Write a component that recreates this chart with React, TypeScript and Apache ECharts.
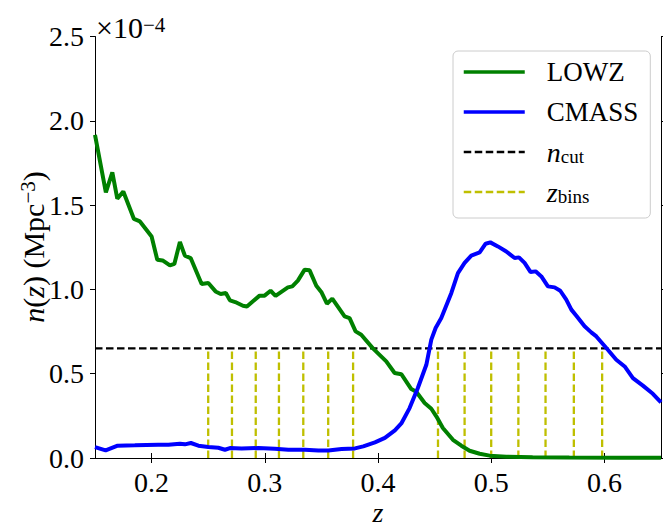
import React, { useEffect, useRef } from 'react';
import * as echarts from 'echarts';

const FONT = '"Liberation Serif", "DejaVu Serif", serif';

// n(z) in units of 1e-4 Mpc^-3
const Z_LOWZ = [0.150, 0.1596, 0.1653, 0.1697, 0.175, 0.1844, 0.1897, 0.200, 0.205, 0.2097, 0.2162, 0.2201, 0.225, 0.2294, 0.2345, 0.2442, 0.2501, 0.2565, 0.261, 0.2656, 0.2692, 0.2739, 0.2807, 0.2842, 0.2954, 0.2998, 0.3051, 0.3095, 0.3204, 0.3243, 0.3292, 0.3352, 0.3396, 0.3455, 0.3499, 0.3549, 0.3596, 0.3705, 0.3749, 0.3802, 0.3852, 0.3955, 0.4073, 0.4147, 0.4206, 0.4294, 0.4338, 0.4412, 0.4471, 0.4515, 0.4573, 0.4662, 0.4736, 0.4809, 0.4898, 0.4986, 0.5133, 0.5366, 0.569, 0.613, 0.650];
const N_LOWZ = [1.917, 1.575, 1.694, 1.538, 1.581, 1.418, 1.403, 1.314, 1.176, 1.172, 1.142, 1.151, 1.281, 1.200, 1.186, 1.032, 1.038, 0.988, 0.973, 0.979, 0.935, 0.925, 0.903, 0.899, 0.963, 0.963, 0.992, 0.961, 1.012, 1.018, 1.052, 1.117, 1.113, 1.022, 0.985, 0.915, 0.945, 0.840, 0.830, 0.751, 0.731, 0.650, 0.573, 0.504, 0.497, 0.409, 0.393, 0.326, 0.292, 0.247, 0.178, 0.108, 0.073, 0.043, 0.025, 0.014, 0.008, 0.005, 0.003, 0.002, 0.001];

const Z_CMASS = [0.150, 0.1594, 0.170, 0.1852, 0.2059, 0.2148, 0.225, 0.2294, 0.2347, 0.2413, 0.2501, 0.2589, 0.2648, 0.2692, 0.2795, 0.2943, 0.3089, 0.3208, 0.3354, 0.3473, 0.3561, 0.3678, 0.3796, 0.387, 0.3973, 0.4061, 0.4149, 0.4206, 0.4279, 0.4352, 0.4427, 0.4471, 0.4509, 0.4559, 0.4648, 0.4706, 0.4765, 0.4824, 0.4898, 0.4951, 0.4992, 0.5059, 0.5133, 0.5207, 0.5245, 0.5295, 0.5348, 0.5392, 0.5443, 0.5501, 0.556, 0.561, 0.5663, 0.5708, 0.5752, 0.5825, 0.5884, 0.5929, 0.6017, 0.6105, 0.6179, 0.6252, 0.634, 0.6428, 0.650];
const N_CMASS = [0.065, 0.045, 0.073, 0.075, 0.079, 0.079, 0.085, 0.081, 0.089, 0.073, 0.065, 0.061, 0.049, 0.059, 0.057, 0.059, 0.055, 0.049, 0.049, 0.045, 0.045, 0.053, 0.057, 0.069, 0.093, 0.119, 0.164, 0.205, 0.296, 0.415, 0.553, 0.702, 0.771, 0.830, 0.979, 1.097, 1.157, 1.200, 1.219, 1.271, 1.279, 1.255, 1.225, 1.186, 1.190, 1.157, 1.103, 1.107, 1.077, 1.018, 1.012, 0.992, 0.939, 0.880, 0.844, 0.781, 0.745, 0.721, 0.652, 0.583, 0.543, 0.474, 0.429, 0.381, 0.330];

const N_CUT = 0.65;
const Z_BINS = [0.25, 0.271, 0.292, 0.3125, 0.334, 0.356, 0.378, 0.453, 0.4765, 0.500, 0.524, 0.548, 0.573, 0.598];

const X_TICKS = [0.2, 0.3, 0.4, 0.5, 0.6];
const X_MIN = 0.15;
const X_MAX = 0.65;
const Y_MIN = 0;
const Y_MAX = 2.5;
const Y_STEP = 0.5;

export default function App() {
  const ref = useRef<HTMLDivElement>(null);
  useEffect(() => {
    document.body.style.margin = '0';
    const chart = echarts.init(ref.current!, null, { renderer: 'svg' });
    const tick = { show: true, inside: false, length: 5, lineStyle: { color: '#000', width: 1 } };
    const line = { show: true, lineStyle: { color: '#000', width: 1 } };
    const binData: any[] = [];
    Z_BINS.forEach((z) => {
      binData.push([z, 0], [z, N_CUT], [z, '-']);
    });
    chart.setOption({
      animation: false,
      backgroundColor: '#fff',
      grid: { left: 95, right: 2, top: 36.5, bottom: 69, containLabel: false },
      xAxis: [
        {
          type: 'value', min: X_MIN, max: X_MAX, position: 'bottom',
          axisLine: line, splitLine: { show: false },
          axisTick: { ...tick, customValues: X_TICKS },
          axisLabel: {
            customValues: X_TICKS, margin: 10, color: '#000', fontFamily: FONT, fontSize: 28,
            formatter: (v: number) => v.toFixed(1),
          },
        },
        {
          type: 'value', min: X_MIN, max: X_MAX, position: 'top',
          axisLine: line, splitLine: { show: false },
          axisTick: { ...tick, customValues: X_TICKS },
          axisLabel: { show: false },
        },
      ],
      yAxis: [
        {
          type: 'value', min: Y_MIN, max: Y_MAX, interval: Y_STEP, position: 'left',
          axisLine: line, splitLine: { show: false }, axisTick: tick,
          axisLabel: {
            margin: 11, color: '#000', fontFamily: FONT, fontSize: 28,
            formatter: (v: number) => v.toFixed(1),
          },
        },
        {
          type: 'value', min: Y_MIN, max: Y_MAX, interval: Y_STEP, position: 'right',
          axisLine: line, splitLine: { show: false }, axisTick: tick,
          axisLabel: { show: false },
        },
      ],
      legend: {
        orient: 'vertical', left: 453, top: 51,
        data: [
          { name: 'LOWZ', lineStyle: { width: 3.5 } },
          { name: 'CMASS', lineStyle: { width: 3.5 } },
          { name: 'ncut', lineStyle: { width: 2.4 } },
          { name: 'zbins', lineStyle: { width: 2.4 } },
        ],
        padding: [7, 12, 12, 9],
        itemWidth: 61, itemHeight: 14, itemGap: 12,
        itemStyle: { color: 'rgba(0,0,0,0)', borderColor: 'rgba(0,0,0,0)', borderWidth: 0, opacity: 0 },
        backgroundColor: '#fff', borderColor: '#cccccc', borderWidth: 1, borderRadius: 5,
        formatter: (name: string) => {
          if (name === 'ncut') return '{it|n}{sub|cut}';
          if (name === 'zbins') return '{it|z}{sub|bins}';
          return name;
        },
        textStyle: {
          fontFamily: FONT, fontSize: 27, color: '#000', lineHeight: 28, padding: [0, 0, 0, 17],
          rich: {
            it: { fontFamily: FONT, fontStyle: 'italic', fontSize: 28, color: '#000', lineHeight: 28 },
            sub: { fontFamily: FONT, fontSize: 19, color: '#000', lineHeight: 16, verticalAlign: 'bottom' },
          },
        },
      },
      series: [
        {
          name: 'zbins', type: 'line', data: binData, symbol: 'none', connectNulls: false, z: 1,
          lineStyle: { color: '#bfbf00', width: 2.3, type: [7.5, 3.5] }, itemStyle: { color: '#bfbf00' },
        },
        {
          name: 'ncut', type: 'line', data: [[X_MIN, N_CUT], [X_MAX, N_CUT]], symbol: 'none', z: 2,
          lineStyle: { color: '#000', width: 2.4, type: [7.5, 3.5] }, itemStyle: { color: '#000' },
        },
        {
          name: 'LOWZ', type: 'line', data: Z_LOWZ.map((z, i) => [z, N_LOWZ[i]]), symbol: 'none', z: 3,
          lineStyle: { color: '#008000', width: 4 }, itemStyle: { color: '#008000' },
        },
        {
          name: 'CMASS', type: 'line', data: Z_CMASS.map((z, i) => [z, N_CMASS[i]]), symbol: 'none', z: 4,
          lineStyle: { color: '#0000ff', width: 4 }, itemStyle: { color: '#0000ff' },
        },
      ],
      graphic: [
        {
          type: 'text', left: 96, top: 12,
          style: {
            text: '{a|×10}{b|−4}', fontFamily: FONT, fill: '#000',
            rich: {
              a: { fontFamily: FONT, fontSize: 30, lineHeight: 28, verticalAlign: 'bottom' },
              b: { fontFamily: FONT, fontSize: 21, lineHeight: 18, verticalAlign: 'top' },
            },
          },
        },
        {
          type: 'text', x: 33, y: 247, rotation: Math.PI / 2,
          style: {
            text: '{it|n}{r|(}{it|z}{r|) (Mpc}{s|−3}{r|)}', align: 'center', verticalAlign: 'middle', fill: '#000',
            rich: {
              it: { fontFamily: FONT, fontStyle: 'italic', fontSize: 30, lineHeight: 31, verticalAlign: 'bottom' },
              r: { fontFamily: FONT, fontSize: 30, lineHeight: 31, verticalAlign: 'bottom' },
              s: { fontFamily: FONT, fontSize: 21, lineHeight: 20, verticalAlign: 'top' },
            },
          },
        },
        {
          type: 'text', x: 378, y: 512,
          style: { text: 'z', fontFamily: FONT, fontStyle: 'italic', fontSize: 28, fill: '#000', align: 'center', verticalAlign: 'middle' },
        },
      ],
    });
    return () => chart.dispose();
  }, []);
  return <div ref={ref} style={{ position: 'absolute', left: 0, top: 0, width: 663, height: 527 }} />;
}
